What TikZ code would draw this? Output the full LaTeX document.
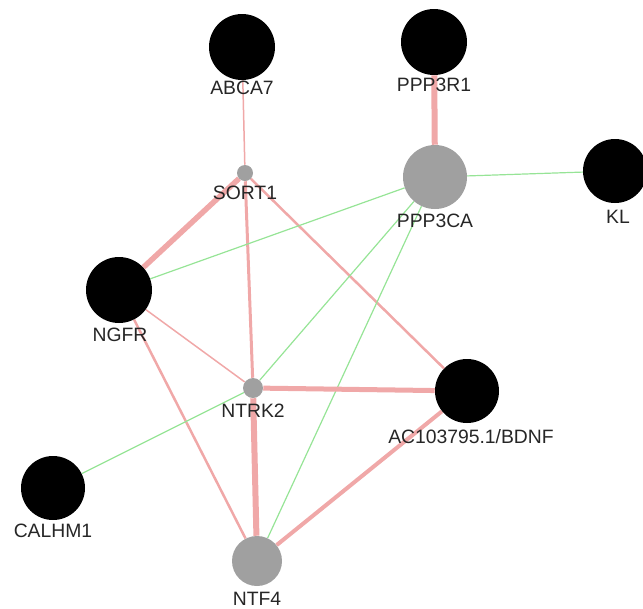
\documentclass[tikz,border=0pt]{standalone}
\usepackage{fontspec}
\setmainfont{Liberation Sans}
\usetikzlibrary{backgrounds}
\definecolor{epink}{RGB}{240,168,168}
\definecolor{egreen}{RGB}{150,228,150}
\definecolor{ngray}{RGB}{160,160,160}
\begin{document}
\begin{tikzpicture}[x=0.75pt,y=-0.75pt,
  bignode/.style={circle,fill=black,inner sep=0pt,minimum size=#1*1.5pt},
  graynode/.style={circle,fill=ngray,inner sep=0pt,minimum size=#1*1.5pt},
  lbl/.style={font=\fontsize{14.5}{16}\selectfont,inner sep=0pt,text=black!85},
  pe/.style={draw=epink,line width=#1*0.75pt},
  ge/.style={draw=egreen,line width=0.9pt}]
\useasboundingbox (0,0) rectangle (643,608);
% nodes
\node[bignode=33] (abca7) at (242,47) {};
\node[bignode=33] (ppp3r1) at (434,42) {};
\node[graynode=8] (sort1) at (245,173) {};
\node[graynode=32] (ppp3ca) at (435,177) {};
\node[bignode=32] (kl) at (615,171) {};
\node[bignode=33] (ngfr) at (119,290) {};
\node[graynode=10] (ntrk2) at (253,388) {};
\node[bignode=32] (bdnf) at (467,391) {};
\node[bignode=32] (calhm1) at (53,488) {};
\node[graynode=25] (ntf4) at (257,561) {};
% edges
\begin{scope}[on background layer]
\draw[pe=1.5] (abca7) -- (sort1);
\draw[pe=6] (ppp3r1) -- (ppp3ca);
\draw[pe=5.5] (sort1) -- (ngfr);
\draw[pe=3] (sort1) -- (ntrk2);
\draw[pe=2.5] (sort1) -- (bdnf);
\draw[ge] (ppp3ca) -- (kl);
\draw[ge] (ppp3ca) -- (ngfr);
\draw[ge] (ppp3ca) -- (ntrk2);
\draw[ge] (ppp3ca) -- (ntf4);
\draw[pe=1.5] (ngfr) -- (ntrk2);
\draw[pe=2.5] (ngfr) -- (ntf4);
\draw[pe=5] (ntrk2) -- (bdnf);
\draw[pe=6] (ntrk2) -- (ntf4);
\draw[pe=4] (bdnf) -- (ntf4);
\draw[ge] (calhm1) -- (ntrk2);
\end{scope}
% labels
\node[lbl] (l-abca7) at (242,88) {ABCA7};
\node[lbl] (l-ppp3r1) at (434,85) {PPP3R1};
\node[lbl] (l-sort1) at (245,193) {SORT1};
\node[lbl] (l-ppp3ca) at (435,221) {PPP3CA};
\node[lbl] (l-kl) at (618,217) {KL};
\node[lbl] (l-ngfr) at (120,335) {NGFR};
\node[lbl] (l-ntrk2) at (253,411) {NTRK2};
\node[lbl] (l-bdnf) at (471,437) {AC103795.1/BDNF};
\node[lbl] (l-calhm1) at (53,531) {CALHM1};
\node[lbl] (l-ntf4) at (257,599) {NTF4};
\end{tikzpicture}
\end{document}
